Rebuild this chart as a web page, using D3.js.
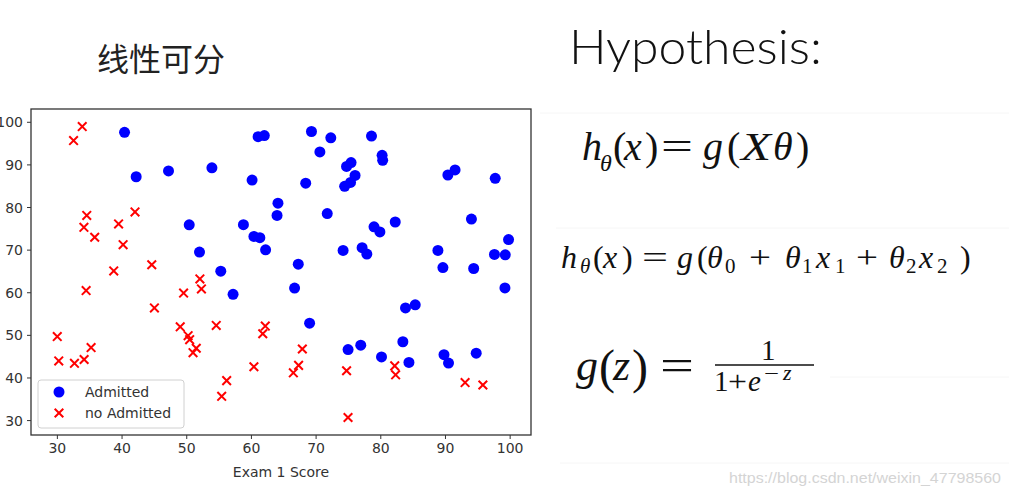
<!DOCTYPE html>
<html><head><meta charset="utf-8">
<script src="https://cdn.jsdelivr.net/npm/d3@7"></script>
<style>body{margin:0;background:#fff;} svg{display:block}</style>
</head><body><svg id="c" width="1009" height="495"></svg>
<script>
// ---- data ----
const admittedX = [60.18,79.03,61.11,75.02,76.10,84.43,82.31,69.36,53.97,69.07,70.66,76.98,89.68,77.92,62.27,80.19,61.38,85.40,52.05,64.18,83.90,94.44,77.19,97.77,62.07,91.56,79.94,99.27,90.55,97.65,74.25,71.80,75.40,40.46,80.28,66.75,64.04,72.35,60.46,58.84,99.83,47.26,50.46,88.91,94.83,67.32,57.24,80.37,68.47,75.48,78.64,94.09,90.45,74.49,89.85,83.49,42.26,99.32,55.34,74.78];
const admittedY = [86.31,75.34,96.51,46.55,87.42,43.53,76.48,97.72,89.21,52.74,92.93,47.58,65.80,68.97,69.95,44.82,72.81,57.05,69.43,80.91,56.31,65.57,70.46,86.73,96.77,88.70,74.16,61.00,43.39,68.86,69.82,78.45,85.76,97.54,92.12,60.99,78.03,96.23,73.09,75.86,72.37,88.48,75.81,69.80,45.69,66.59,59.51,90.96,85.59,90.42,96.65,77.16,87.51,84.85,45.36,48.38,87.10,68.78,64.93,89.53];
const rejectedX = [34.62,30.29,35.85,45.08,95.86,75.01,39.54,67.95,67.37,50.53,34.21,93.11,61.83,38.79,52.11,40.24,54.64,33.92,74.79,34.18,51.55,82.37,51.05,62.22,34.52,50.29,49.59,32.58,35.29,56.25,30.06,44.67,66.56,49.07,32.72,60.46,82.23,42.08,52.35,55.48];
const rejectedY = [78.02,43.89,72.90,56.32,38.23,30.60,76.04,46.68,42.84,48.86,44.21,38.80,50.26,65.00,63.13,71.17,52.21,98.87,41.57,75.24,46.86,40.62,45.82,52.06,60.40,49.80,59.81,95.60,47.02,39.26,49.59,66.45,41.09,51.88,43.31,42.51,42.72,78.84,60.77,35.57];
const xTicks = [30,40,50,60,70,80,90,100];
const yTicks = [30,40,50,60,70,80,90,100];
const legendLabels = ["Admitted","no Admitted"];
const xLabel = "Exam 1 Score";
const leftTitle = "线性可分";
const rightTitle = "Hypothesis:";
const watermark = "https://blog.csdn.net/weixin_47798560";

const svg = d3.select("#c");
svg.append("rect").attr("width",1009).attr("height",495).attr("fill","#fff");

// faint slide artifacts
[[540,1009,113],[556,1009,228],[830,1009,377],[560,1009,463]].forEach(([a,b,y])=>{
  svg.append("line").attr("x1",a).attr("x2",b).attr("y1",y).attr("y2",y).attr("stroke","#f6f6f6").attr("stroke-width",1);
});

// titles
svg.append("text").attr("x",97).attr("y",71).attr("font-family","'Noto Sans CJK SC'").attr("font-size",32).attr("fill","#222").text(leftTitle);
svg.append("text").attr("x",569).attr("y",64).attr("font-family","Lato, 'Liberation Sans'").attr("font-weight",300).attr("font-size",48).attr("fill","#111").attr("textLength",253).attr("lengthAdjust","spacingAndGlyphs").text(rightTitle);

// ---- chart ----
const L=31, R=531, T=109, B=435;
const x = d3.scaleLinear().domain([26,103.3]).range([L,R]);
const y = d3.scaleLinear().domain([26.5,103]).range([B,T]);
const font = "'DejaVu Sans'";

const gx = svg.append("g").attr("transform",`translate(0,${B})`)
  .call(d3.axisBottom(x).tickValues(xTicks).tickSize(4).tickPadding(4));
const gy = svg.append("g").attr("transform",`translate(${L},0)`)
  .call(d3.axisLeft(y).tickValues(yTicks).tickSize(4).tickPadding(4));
[gx,gy].forEach(g=>{
  g.select(".domain").remove();
  g.selectAll("line").attr("stroke","#333").attr("stroke-width",1);
  g.selectAll("text").attr("font-family",font).attr("font-size",14).attr("fill","#333");
});
gy.selectAll("text").attr("dy","0.36em");

svg.append("text").attr("x",(L+R)/2).attr("y",477).attr("text-anchor","middle")
  .attr("font-family",font).attr("font-size",14).attr("fill","#333").text(xLabel);

const plot = svg.append("g");
plot.selectAll("circle").data(d3.range(admittedX.length)).join("circle")
  .attr("cx",i=>x(admittedX[i])).attr("cy",i=>y(admittedY[i])).attr("r",5.5).attr("fill","#0000ff");
const cs = 4.3;
const cross = (px,py)=>`M${px-cs},${py-cs}L${px+cs},${py+cs}M${px-cs},${py+cs}L${px+cs},${py-cs}`;
plot.selectAll("path.rej").data(d3.range(rejectedX.length)).join("path").attr("class","rej")
  .attr("d",i=>cross(x(rejectedX[i]),y(rejectedY[i]))).attr("stroke","#ff0000").attr("stroke-width",2).attr("fill","none");

svg.append("rect").attr("x",L).attr("y",T).attr("width",R-L).attr("height",B-T)
  .attr("fill","none").attr("stroke","#333").attr("stroke-width",1.3);

// legend
const lg = svg.append("g");
lg.append("rect").attr("x",38).attr("y",380).attr("width",146).attr("height",48).attr("rx",3)
  .attr("fill","#fff").attr("fill-opacity",0.8).attr("stroke","#d0d0d0").attr("stroke-width",1);
lg.append("circle").attr("cx",59).attr("cy",392).attr("r",5.5).attr("fill","#0000ff");
lg.append("path").attr("d",cross(59,413)).attr("stroke","#ff0000").attr("stroke-width",2);
legendLabels.forEach((t,i)=>lg.append("text").attr("x",85).attr("y",397+i*21)
  .attr("font-family",font).attr("font-size",14).attr("fill","#333").text(t));

// ---- formulas ----
const ff = "'Liberation Serif', 'Times New Roman', serif";
function tok(px,py,t,size,it,len){
  const e = svg.append("text").attr("x",px).attr("y",py).attr("font-family",ff)
    .attr("font-size",size).attr("fill","#111").attr("font-style",it?"italic":"normal").text(t);
  if(len) e.attr("textLength",len).attr("lengthAdjust","spacingAndGlyphs");
  return e;
}
// h_θ(x) = g(Xθ)
tok(582,160,"h",40,1); tok(600,171,"θ",24,1); tok(613,160,"(",40,0); tok(624,160,"x",40,1);
tok(645,160,")",40,0); tok(661,160,"=",40,0,32); tok(703,160,"g",40,1); tok(727,160,"(",40,0);
tok(741,160,"X",40,1,30); tok(773,160,"θ",40,1); tok(796,160,")",40,0);
// h_θ(x) = g(θ0 + θ1x1 + θ2x2 )
const b2=268;
tok(561,b2,"h",32,1); tok(580,b2+5,"θ",21,1); tok(593,b2,"(",32,0); tok(603,b2,"x",32,1);
tok(622,b2,")",32,0); tok(642,b2,"=",32,0,26); tok(677,b2,"g",32,1); tok(697,b2,"(",32,0);
tok(707,b2,"θ",32,1); tok(725,b2+5,"0",21,0); tok(749,b2,"+",32,0,22);
tok(785,b2,"θ",32,1); tok(802,b2+5,"1",21,0); tok(816,b2,"x",32,1); tok(835,b2+5,"1",21,0);
tok(856,b2,"+",32,0,22); tok(889,b2,"θ",32,1); tok(906,b2+5,"2",21,0); tok(919,b2,"x",32,1);
tok(937,b2+5,"2",21,0); tok(960,b2,")",32,0);
// g(z) = 1/(1+e^-z)
const b3=380;
tok(576,b3,"g",44,1); tok(599,b3+3,"(",48,0); tok(613,b3,"z",44,1); tok(632,b3+3,")",48,0);
tok(660,b3,"=",44,0,34);
tok(761,360,"1",29,0);
svg.append("line").attr("x1",715).attr("x2",814).attr("y1",365).attr("y2",365).attr("stroke","#111").attr("stroke-width",1.6);
tok(714,391,"1",29,0); tok(728,391,"+",29,0,19); tok(748,391,"e",29,1); tok(764,380,"−",20,0,15); tok(783,380,"z",22,1);

// watermark
svg.append("text").attr("x",729).attr("y",483).attr("font-family","'Liberation Sans'").attr("font-size",15)
  .attr("fill","#d4d4d4").attr("textLength",272).attr("lengthAdjust","spacingAndGlyphs").text(watermark);
</script></body></html>
